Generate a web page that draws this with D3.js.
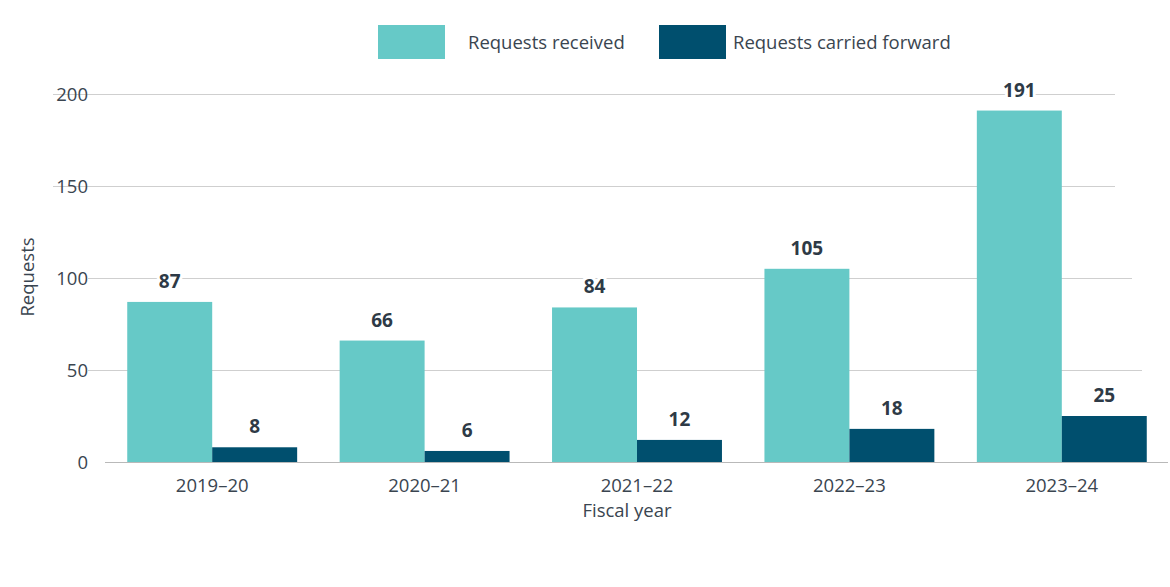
<!DOCTYPE html>
<html>
<head>
<meta charset="utf-8">
<script src="https://cdn.jsdelivr.net/npm/d3@7"></script>
<style>
body { margin: 0; background: #fff; }
text { font-family: "Open Sans", "Noto Sans", sans-serif; }
</style>
</head>
<body>
<div id="chart"></div>
<script>
var years = ["2019\u201320", "2020\u201321", "2021\u201322", "2022\u201323", "2023\u201324"];
var received = [87, 66, 84, 105, 191];
var carried = [8, 6, 12, 18, 25];
var seriesNames = ["Requests received", "Requests carried forward"];
var yTicks = [0, 50, 100, 150, 200];

var colors = ["#66c9c7", "#004f6e"];
var w = 1170, h = 587;
// left/right ends of each gridline, bottom to top (the original is uneven)
var gridEnds = [[105, 1168], [88, 1142], [88, 1132], [53, 1115], [53, 1115]];

var svg = d3.select("#chart").append("svg")
	.attr("width", w)
	.attr("height", h);

var x = d3.scaleBand()
	.domain(years)
	.range([106, 1168])
	.paddingInner(0.2)
	.paddingOuter(0.1);

var x1 = d3.scaleBand()
	.domain([0, 1])
	.range([0, x.bandwidth()]);

var y = d3.scaleLinear()
	.domain([0, 200])
	.range([462, 94]);

// gridlines
svg.append("g").selectAll("line")
	.data(yTicks)
	.enter()
	.append("line")
	.attr("x1", function(d, i) { return gridEnds[i][0]; })
	.attr("x2", function(d, i) { return gridEnds[i][1]; })
	.attr("y1", function(d) { return y(d) + 0.5; })
	.attr("y2", function(d) { return y(d) + 0.5; })
	.attr("stroke", function(d) { return d == 0 ? "#b9b9b9" : "#cfcfcf"; })
	.attr("stroke-width", 1);

// y tick labels
svg.append("g").selectAll("text")
	.data(yTicks)
	.enter()
	.append("text")
	.attr("x", 88)
	.attr("y", function(d) { return y(d); })
	.attr("dy", "0.36em")
	.attr("text-anchor", "end")
	.attr("font-size", "18.5px")
	.attr("fill", "#3a4550")
	.text(function(d) { return d; });

// bars
var groups = svg.append("g").selectAll("g")
	.data(years)
	.enter()
	.append("g")
	.attr("transform", function(d) { return "translate(" + x(d) + ",0)"; });

groups.selectAll("rect")
	.data(function(d, i) { return [received[i], carried[i]]; })
	.enter()
	.append("rect")
	.attr("x", function(d, j) { return x1(j); })
	.attr("width", x1.bandwidth())
	.attr("y", function(d) { return y(d); })
	.attr("height", function(d) { return y(0) - y(d); })
	.attr("fill", function(d, j) { return colors[j]; });

groups.selectAll("text.val")
	.data(function(d, i) { return [received[i], carried[i]]; })
	.enter()
	.append("text")
	.attr("class", "val")
	.attr("x", function(d, j) { return x1(j) + x1.bandwidth() / 2; })
	.attr("y", function(d) { return y(d) - 14; })
	.attr("text-anchor", "middle")
	.attr("font-size", "19px")
	.attr("font-weight", "bold")
	.attr("fill", "#2e3a46")
	.attr("stroke", "#fff")
	.attr("stroke-width", 6)
	.attr("paint-order", "stroke")
	.text(function(d) { return d; });

// x tick labels
svg.append("g").selectAll("text")
	.data(years)
	.enter()
	.append("text")
	.attr("x", function(d) { return x(d) + x.bandwidth() / 2; })
	.attr("y", 492)
	.attr("text-anchor", "middle")
	.attr("font-size", "18.5px")
	.attr("fill", "#3a4550")
	.text(function(d) { return d; });

// axis titles
svg.append("text")
	.attr("x", 627)
	.attr("y", 517)
	.attr("text-anchor", "middle")
	.attr("font-size", "18.5px")
	.attr("fill", "#3a4550")
	.text("Fiscal year");

svg.append("text")
	.attr("transform", "translate(34,277)rotate(-90)")
	.attr("text-anchor", "middle")
	.attr("font-size", "18.5px")
	.attr("fill", "#3a4550")
	.text("Requests");

// legend
var legX = [378, 659];
var leg = svg.append("g").selectAll("g")
	.data(seriesNames)
	.enter()
	.append("g")
	.attr("transform", function(d, i) { return "translate(" + legX[i] + ",25)"; });

leg.append("rect")
	.attr("width", 67)
	.attr("height", 34)
	.attr("fill", function(d, i) { return colors[i]; });

leg.append("text")
	.attr("x", function(d, i) { return i == 0 ? 90 : 74; })
	.attr("y", 17)
	.attr("dy", "0.36em")
	.attr("font-size", "18.5px")
	.attr("fill", "#3a4550")
	.text(function(d) { return d; });
</script>
</body>
</html>
